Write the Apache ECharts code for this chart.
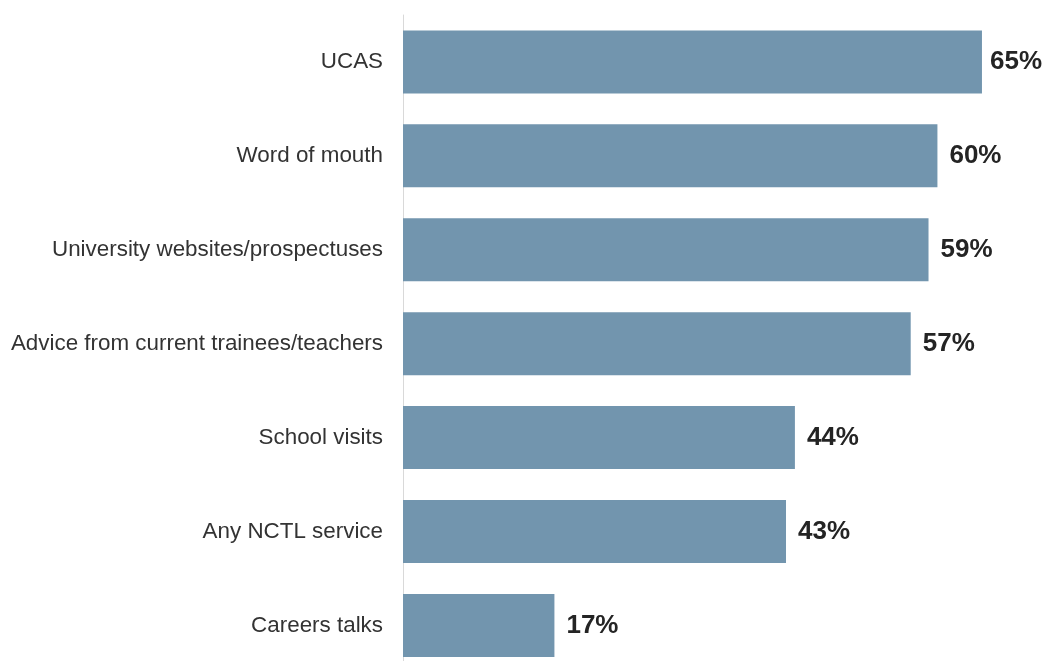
<!DOCTYPE html>
<html>
<head>
<meta charset="utf-8">
<script src="https://cdn.jsdelivr.net/npm/echarts@6/dist/echarts.min.js"></script>
<style>
html,body{margin:0;padding:0;background:#fff;}
#chart{width:1045px;height:661px;}
</style>
</head>
<body>
<div id="chart"></div>
<script>
var categories = ["UCAS", "Word of mouth", "University websites/prospectuses", "Advice from current trainees/teachers", "School visits", "Any NCTL service", "Careers talks"];
var values = [65, 60, 59, 57, 44, 43, 17];

var chart = echarts.init(document.getElementById('chart'), null, {renderer: 'canvas'});
chart.setOption({
  animation: false,
  backgroundColor: '#ffffff',
  grid: {left: 403, top: 15, width: 623.5, height: 657.4, containLabel: false, outerBoundsMode: 'none'},
  xAxis: {
    type: 'value', min: 0, max: 70, show: false
  },
  yAxis: {
    type: 'category', data: categories, inverse: true,
    axisLine: {show: true, lineStyle: {color: '#d9d9d9', width: 1}},
    axisTick: {show: false},
    axisLabel: {margin: 20, fontSize: 22.4, color: '#333333', fontFamily: 'Arial, Liberation Sans, sans-serif'}
  },
  series: [{
    type: 'bar',
    data: values.map(function (v, i) {
      return i === 0 ? {value: v, label: {distance: 8}} : v;
    }),
    barWidth: 63,
    itemStyle: {color: '#7295ae'},
    label: {
      show: true, position: 'right', distance: 12,
      formatter: '{c}%',
      fontSize: 26, fontWeight: 'bold', color: '#242424',
      fontFamily: 'Arial, Liberation Sans, sans-serif'
    }
  }]
});
</script>
</body>
</html>
